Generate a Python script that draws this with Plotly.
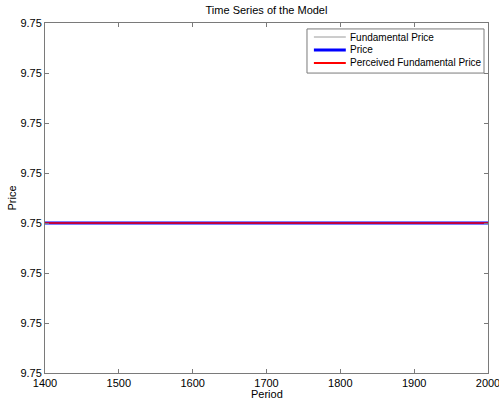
import plotly.graph_objects as go

# Simulated model output: periods and the three price series
periods = list(range(1400, 2001))
fundamental_price = [9.75] * len(periods)
price = [9.75] * len(periods)
perceived_fundamental_price = [9.75] * len(periods)

series_names = ["Fundamental Price", "Price", "Perceived Fundamental Price"]
x_tick_values = [1400, 1500, 1600, 1700, 1800, 1900, 2000]
y_tick_labels = ["9.75", "9.75", "9.75", "9.75", "9.75", "9.75", "9.75", "9.75"]

# The series never move, so the axis spans a tiny band around the level
level = 9.75
step = 1e-9
y_tick_values = [level + k * step for k in range(-3, 5)]

FONT = "Liberation Sans, Arial, Helvetica, sans-serif"
AXIS_COLOR = "#7a7a7a"

line_styles = [
    dict(color="#9a9a9a", width=1),
    dict(color="#0000ff", width=3),
    dict(color="#ff0000", width=1.8),
]
opacities = [1.0, 1.0, 0.75]
legend_widths = [1, 3, 2]

fig = go.Figure()
for name, values, style, op in zip(series_names,
                                   [fundamental_price, price, perceived_fundamental_price],
                                   line_styles, opacities):
    fig.add_trace(go.Scatter(x=periods, y=values, mode="lines", name=name,
                             line=style, opacity=op, showlegend=False))

# Compact boxed legend in the upper right corner of the axes
lg_x0, lg_x1, lg_top, lg_bottom = 0.5914, 0.991, 0.983, 0.857
row_y = [0.96, 0.923, 0.886]
fig.add_shape(type="rect", xref="paper", yref="paper",
              x0=lg_x0, x1=lg_x1, y0=lg_bottom, y1=lg_top,
              line=dict(color=AXIS_COLOR, width=1), fillcolor="white", layer="above")
for name, style, lw, yy in zip(series_names, line_styles, legend_widths, row_y):
    fig.add_shape(type="line", xref="paper", yref="paper",
                  x0=0.607, x1=0.679, y0=yy, y1=yy,
                  line=dict(color=style["color"], width=lw), layer="above")
    fig.add_annotation(x=0.684, y=yy, xref="paper", yref="paper", text=name,
                       showarrow=False, xanchor="left", yanchor="middle",
                       font=dict(family=FONT, size=10, color="#000000"))

# X axis title placed just under the tick labels
fig.add_annotation(x=0.5, y=-0.037, xref="paper", yref="paper", text="Period",
                   showarrow=False, xanchor="center", yanchor="top",
                   font=dict(family=FONT, size=11, color="#000000"))

axis_common = dict(
    showgrid=False, zeroline=False, showline=True, linecolor=AXIS_COLOR,
    linewidth=1, mirror="ticks", ticks="inside", ticklen=4, automargin=False,
    ticklabeloverflow="allow",
    tickcolor=AXIS_COLOR, tickfont=dict(family=FONT, size=11, color="#000000"),
)

fig.update_layout(
    width=499, height=399,
    margin=dict(l=45, r=11, t=23, b=26),
    paper_bgcolor="white", plot_bgcolor="white",
    font=dict(family=FONT, size=11, color="#000000"),
    title=dict(text="Time Series of the Model", x=(45 + 488) / 2 / 499,
               xanchor="center", y=1 - 10 / 399, yanchor="middle",
               yref="container", font=dict(family=FONT, size=11)),
    xaxis=dict(range=[1400, 2000], tickvals=x_tick_values, **axis_common),
    yaxis=dict(range=[y_tick_values[0], y_tick_values[-1]],
               tickvals=y_tick_values, ticktext=y_tick_labels,
               title=dict(text="Price", standoff=1, font=dict(size=11)),
               **axis_common),
    showlegend=False,
)

fig.write_html("out.html")
